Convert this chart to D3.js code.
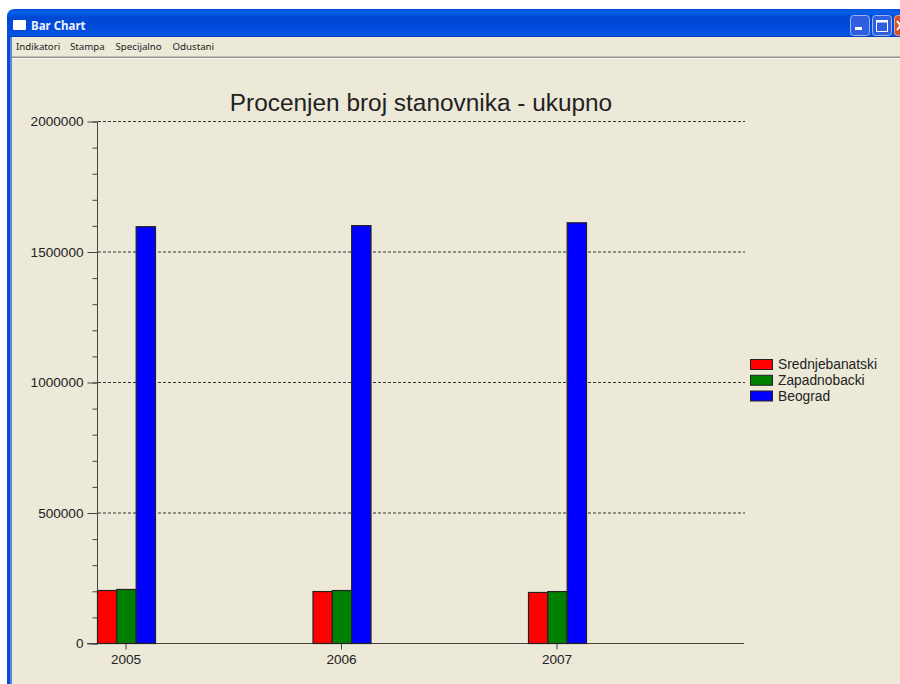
<!DOCTYPE html>
<html>
<head>
<meta charset="utf-8">
<title>Bar Chart</title>
<script src="https://cdn.jsdelivr.net/npm/d3@7"></script>
<style>
	body { margin: 0; background: #fff; }
	svg { display: block; }
	text { font-family: "Liberation Sans", Arial, sans-serif; fill: #222; }
	.menu text { font-family: "Noto Sans", sans-serif; font-size: 9.7px; fill: #222; }
	.axis path, .axis line { stroke: #444; }
</style>
</head>
<body>
<div id="chart-area"></div>
<script>

// DATA

const years = ["2005", "2006", "2007"];
const seriesNames = ["Srednjebanatski", "Zapadnobacki", "Beograd"];
const seriesColors = ["#ff0000", "#008000", "#0000ff"];

const srednjebanatski = [203000, 199000, 195500];
const zapadnobacki = [207000, 203000, 199000];
const beograd = [1597000, 1601000, 1612000];
const seriesValues = [srednjebanatski, zapadnobacki, beograd];

const majorTicks = [0, 500000, 1000000, 1500000, 2000000];
const minorTicks = d3.range(0, 2000001, 100000);
const menuItems = ["Indikatori", "Stampa", "Specijalno", "Odustani"];

// CHART AREA

let svg = d3.select("#chart-area").append("svg")
	.attr("width", 900)
	.attr("height", 684);

// window frame

let titleGrad = svg.append("defs").append("linearGradient")
	.attr("id", "titleGrad")
	.attr("x1", 0).attr("y1", 0).attr("x2", 0).attr("y2", 1);
[[0, "#0550d8"], [0.12, "#0560ea"], [0.3, "#0048d4"], [0.75, "#004cdc"], [0.93, "#0458e6"], [1, "#0038b4"]]
	.forEach(d => titleGrad.append("stop").attr("offset", d[0]).attr("stop-color", d[1]));

svg.append("path")
	.attr("d", "M7,37 V17 Q7,9 15,9 H900 V37 Z")
	.attr("fill", "url(#titleGrad)");
svg.append("rect").attr("x", 7).attr("y", 37).attr("width", 4).attr("height", 647).attr("fill", "#0a48dc");
svg.append("rect").attr("x", 10).attr("y", 37).attr("width", 2).attr("height", 647).attr("fill", "#5a86d8");
svg.append("rect").attr("x", 12).attr("y", 37).attr("width", 888).attr("height", 647).attr("fill", "#ece9d8");
svg.append("rect").attr("x", 12).attr("y", 56.5).attr("width", 888).attr("height", 1.5).attr("fill", "#96938a");
svg.append("rect").attr("x", 12).attr("y", 58).attr("width", 888).attr("height", 1).attr("fill", "#fbfaf5");

// title bar icon and caption
svg.append("rect").attr("x", 13).attr("y", 20).attr("width", 13).attr("height", 10).attr("rx", 1).attr("fill", "#fff");
svg.append("text")
	.attr("x", 31).attr("y", 30)
	.style("font-family", "'Noto Sans', sans-serif")
	.style("font-size", "11.5px")
	.style("font-weight", "bold")
	.style("fill", "#eef2ff")
	.text("Bar Chart");

// window buttons
let btn = svg.append("g");
btn.append("rect").attr("x", 850.5).attr("y", 15.5).attr("width", 19).attr("height", 20).attr("rx", 3)
	.attr("fill", "#2f5fe0").attr("stroke", "#9db6ee");
btn.append("rect").attr("x", 855).attr("y", 27).attr("width", 7).attr("height", 3).attr("fill", "#fff");
btn.append("rect").attr("x", 872.5).attr("y", 15.5).attr("width", 19).attr("height", 20).attr("rx", 3)
	.attr("fill", "#2f5fe0").attr("stroke", "#9db6ee");
btn.append("rect").attr("x", 876.5).attr("y", 20.5).attr("width", 11).attr("height", 11)
	.attr("fill", "none").attr("stroke", "#fff");
btn.append("rect").attr("x", 876).attr("y", 20).attr("width", 12).attr("height", 2.5).attr("fill", "#fff");
btn.append("rect").attr("x", 894.5).attr("y", 15.5).attr("width", 12).attr("height", 20).attr("rx", 3)
	.attr("fill", "#d8502c").attr("stroke", "#e8a898");
btn.append("path")
	.attr("d", "M897,21 L904,30 M904,21 L897,30")
	.attr("stroke", "#fff")
	.attr("stroke-width", 2);

// menu
let menuX = [16, 70, 115.5, 172.5];
svg.append("g").attr("class", "menu").selectAll("text")
	.data(menuItems)
	.enter().append("text")
	.attr("x", (d, i) => menuX[i])
	.attr("y", 50)
	.text(d => d);

// SCALES

let xScale = d3.scaleBand()
	.domain(years)
	.range([97.5, 744]);

let groupScale = d3.scaleBand()
	.domain(seriesNames)
	.range([0, 58]);

let yScale = d3.scaleLinear()
	.domain([0, 2000000])
	.range([643.5, 121.5]);

// GRID

svg.append("g").selectAll("line")
	.data(majorTicks.filter(d => d > 0))
	.enter().append("line")
	.attr("x1", 98)
	.attr("x2", 745)
	.attr("y1", d => yScale(d))
	.attr("y2", d => yScale(d))
	.attr("stroke", "#333")
	.attr("stroke-dasharray", "3,2");

// AXIS

let yAxisMinor = d3.axisLeft(yScale)
	.tickValues(minorTicks)
	.tickSize(5)
	.tickFormat("");

let yAxis = d3.axisLeft(yScale)
	.tickValues(majorTicks)
	.tickSize(10)
	.tickPadding(4)
	.tickFormat(d => d);

let xAxis = d3.axisBottom(xScale)
	.tickSize(6)
	.tickSizeOuter(0)
	.tickPadding(5)
	.tickFormat(d => d);

svg.append("g").attr("class", "axis")
	.attr("transform", "translate(97.5,0)")
	.call(yAxisMinor)
	.select(".domain").remove();

svg.append("g").attr("class", "axis y-axis")
	.attr("transform", "translate(97.5,0)")
	.call(yAxis)
	.call(g => g.select(".domain").attr("d", "M0,121.5V643.5"))
	.selectAll("text")
	.style("font-size", "13.6px")
	.style("font-family", "'Liberation Sans', Arial, sans-serif");

let xAxisGroup = svg.append("g").attr("class", "axis x-axis")
	.attr("transform", "translate(0,643.5)")
	.call(xAxis)
	.call(g => g.select(".domain").attr("d", "M87,0H744"));

// ticks sit under the middle of the bar group, not the middle of the band
xAxisGroup.selectAll(".tick")
	.attr("transform", d => "translate(" + (xScale(d) + 28.5) + ",0)");
xAxisGroup.selectAll("text")
	.style("font-size", "13.6px")
	.style("font-family", "'Liberation Sans', Arial, sans-serif");

// BARS

seriesNames.forEach((name, s) => {
	svg.append("g").selectAll("rect")
		.data(seriesValues[s])
		.enter().append("rect")
		.attr("x", (d, i) => xScale(years[i]) + groupScale(name))
		.attr("y", d => yScale(d))
		.attr("width", groupScale.bandwidth())
		.attr("height", d => yScale(0) - yScale(d))
		.attr("fill", seriesColors[s])
		.attr("stroke", "#222")
		.attr("stroke-width", 1.2);
});

// TITLE

svg.append("text")
	.attr("x", 421)
	.attr("y", 110.5)
	.attr("text-anchor", "middle")
	.style("font-size", "24.4px")
	.text("Procenjen broj stanovnika - ukupno");

// LEGEND

let legendY = d3.scalePoint()
	.domain(seriesNames)
	.range([364.5, 396]);

let legend = svg.append("g").selectAll("g")
	.data(seriesNames)
	.enter().append("g")
	.attr("transform", d => "translate(750," + legendY(d) + ")");

legend.append("rect")
	.attr("x", 0.5)
	.attr("y", -5)
	.attr("width", 22)
	.attr("height", 10)
	.attr("fill", (d, i) => seriesColors[i])
	.attr("stroke", "#222");

legend.append("text")
	.attr("x", 28)
	.attr("y", 4.5)
	.style("font-size", "13.8px")
	.text(d => d);

</script>
</body>
</html>
